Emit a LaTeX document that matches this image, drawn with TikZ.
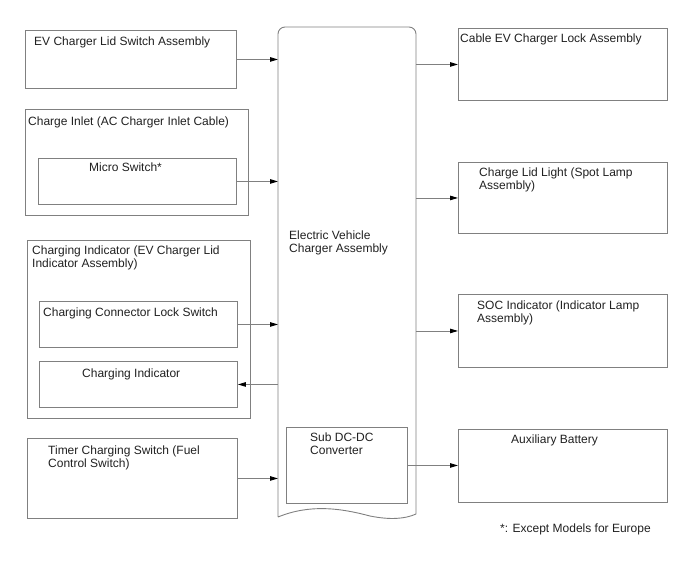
\documentclass[tikz,border=0pt]{standalone}
\usepackage{fontspec}
\setmainfont{Liberation Sans}
\usetikzlibrary{arrows.meta}
\definecolor{boxgray}{HTML}{808080}
\definecolor{txtgray}{HTML}{202020}
\begin{document}
\begin{tikzpicture}[x=1pt,y=-1pt,
  box/.style={draw=boxgray,line width=0.9pt,inner sep=0pt,anchor=north west},
  lbl/.style={inner sep=0pt,anchor=base west,align=left,text=txtgray,font=\fontsize{12}{13.5}\selectfont},
  conn/.style={draw=boxgray,line width=0.9pt,-{Triangle[black,length=8pt,width=4.5pt]}}]
\useasboundingbox (0,0) rectangle (688,560);
% central unit
\node[inner sep=0pt,minimum width=138pt,minimum height=490pt,anchor=north west] (ecu) at (278,27) {};
\draw[boxgray,line width=0.9pt]
  (278,517) [rounded corners=7pt] -- (278,27) -- (416,27) [sharp corners] -- (416,514)
  .. controls (405,519) and (390,520) .. (370,516)
  .. controls (340,508) and (310,504) .. (278,517);
\node[lbl] (ecuT) at (289,252.5) {Electric Vehicle\\Charger Assembly};
\node[box,minimum width=121pt,minimum height=76pt] (sub) at (286,427) {};
\node[lbl] (subT) at (310,454.5) {Sub DC-DC\\Converter};
% left side
\node[box,minimum width=211pt,minimum height=58pt] (lid) at (25,30) {};
\node[lbl] (lidT) at (34,45) {EV Charger Lid Switch Assembly};
\node[box,minimum width=223pt,minimum height=106pt] (inlet) at (25,109) {};
\node[lbl] (inletT) at (28,125) {Charge Inlet (AC Charger Inlet Cable)};
\node[box,minimum width=198pt,minimum height=46pt] (micro) at (38,158) {};
\node[lbl] (microT) at (89,171) {Micro Switch*};
\node[box,minimum width=223pt,minimum height=178pt] (ind) at (27,240) {};
\node[lbl] (indT) at (32,267.5) {Charging Indicator (EV Charger Lid\\Indicator Assembly)};
\node[box,minimum width=198pt,minimum height=46pt] (lock) at (39,301) {};
\node[lbl] (lockT) at (43,316) {Charging Connector Lock Switch};
\node[box,minimum width=198pt,minimum height=46pt] (cind) at (39,361) {};
\node[lbl] (cindT) at (82,377) {Charging Indicator};
\node[box,minimum width=210pt,minimum height=80pt] (timer) at (27,438) {};
\node[lbl] (timerT) at (48,467.5) {Timer Charging Switch (Fuel\\Control Switch)};
% right side
\node[box,minimum width=209pt,minimum height=72pt] (cable) at (458,28) {};
\node[lbl] (cableT) at (460,42) {Cable EV Charger Lock Assembly};
\node[box,minimum width=209pt,minimum height=71pt] (light) at (458,162) {};
\node[lbl] (lightT) at (479,189.5) {Charge Lid Light (Spot Lamp\\Assembly)};
\node[box,minimum width=209pt,minimum height=73pt] (soc) at (458,294) {};
\node[lbl] (socT) at (477,322.5) {SOC Indicator (Indicator Lamp\\Assembly)};
\node[box,minimum width=209pt,minimum height=73pt] (aux) at (458,429) {};
\node[lbl] (auxT) at (511,443) {Auxiliary Battery};
\node[lbl] (note) at (500,532) {*: Except Models for Europe};
% connectors
\draw[conn] (lid.east) -- (lid.east -| ecu.west);
\draw[conn] (micro.east) -- (micro.east -| ecu.west);
\draw[conn] (lock.east) -- (lock.east -| ecu.west);
\draw[conn] (cind.east -| ecu.west) -- (cind.east);
\draw[conn] (timer.east) -- (timer.east -| ecu.west);
\draw[conn] (ecu.east |- cable.west) -- (cable.west);
\draw[conn] (ecu.east |- light.west) -- (light.west);
\draw[conn] (ecu.east |- soc.west) -- (soc.west);
\draw[conn] (sub.east) -- (sub.east -| aux.west);
\end{tikzpicture}
\end{document}
